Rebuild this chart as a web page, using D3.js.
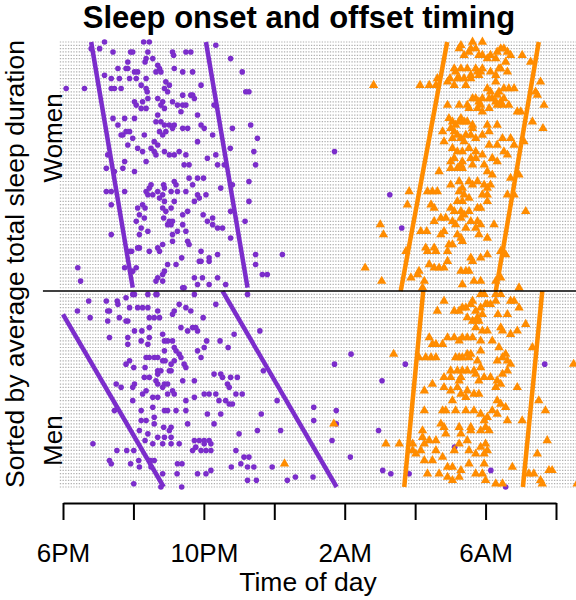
<!DOCTYPE html>
<html><head><meta charset="utf-8">
<script src="https://cdn.jsdelivr.net/npm/d3@7"></script>
<style>body{margin:0;background:#fff}svg{display:block}text{font-family:"Liberation Sans",Arial,sans-serif;fill:#000}</style>
</head><body><svg id="c" width="576" height="600"></svg>
<script>
// x values: hours after 6PM; rows: subjects sorted by average total sleep duration
const tickHours=[0,2,4,6,8,10,12,14];
const tickLabels=["6PM","","10PM","","2AM","","6AM",""];
const groupNames=["Women","Men"];
const womenRowRange=[1,75];
const menRowRange=[77,135];
const separatorRow=76;

const womenOnset=[[3,0.80],[3,1.04],[1,1.18],[1,2.29],[1,2.45],[4,2.41],[6,2.36],[6,2.55],[7,2.33],[4,1.92],[4,1.98],[7,1.84],[4,1.42],[4,3.11],[5,3.14],[4,3.49],[4,3.63],[2,4.34],[6,4.76],[10,5.09],[16,5.19],[16,5.28],[9,1.56],[9,1.79],[9,1.84],[10,2.12],[12,2.08],[12,1.89],[10,2.03],[8,2.69],[9,2.74],[10,2.78],[10,2.64],[9,3.16],[10,3.40],[10,3.68],[11,1.18],[12,1.37],[12,1.60],[15,1.37],[15,1.46],[15,1.65],[14,2.22],[15,2.36],[16,2.39],[12,2.36],[13,2.92],[15,2.88],[16,2.97],[14,3.02],[15,0.09],[15,0.61],[14,3.92],[17,3.40],[17,3.63],[18,3.73],[17,3.68],[18,2.69],[19,2.83],[20,2.78],[21,2.88],[19,3.11],[20,3.25],[20,3.40],[20,3.49],[22,3.35],[19,2.03],[20,2.08],[19,2.26],[18,2.41],[21,2.36],[21,2.22],[20,4.29],[23,3.82],[24,1.42],[24,1.75],[24,2.03],[26,1.56],[23,2.69],[25,2.64],[25,2.78],[26,2.88],[26,3.02],[26,3.16],[27,3.11],[28,2.92],[28,2.74],[29,2.83],[31,2.59],[32,2.69],[27,3.40],[27,3.54],[26,3.92],[27,4.01],[27,4.81],[26,5.33],[30,5.52],[34,5.42],[29,1.65],[28,1.79],[28,1.89],[29,1.70],[30,1.98],[29,2.31],[32,1.84],[33,2.12],[34,2.26],[33,2.50],[34,2.59],[35,2.64],[34,2.88],[35,3.02],[35,3.16],[34,3.30],[35,3.49],[31,3.82],[29,4.25],[33,4.75],[35,1.27],[37,1.75],[37,2.36],[36,4.10],[35,4.34],[38,3.44],[38,3.58],[38,4.39],[38,4.58],[38,5.47],[34,7.71],
[46,1.23],[46,1.37],[46,1.75],[50,1.37],[59,1.37],[39,1.23],[40,1.46],[39,1.70],[40,2.03],[46,2.36],[45,2.45],[44,2.50],[47,2.41],[47,2.55],[46,2.69],[44,2.86],[45,2.88],[47,2.83],[46,3.07],[43,3.16],[44,3.21],[46,3.25],[46,3.49],[42,3.58],[42,3.82],[42,3.99],[44,3.68],[47,3.82],[48,3.87],[47,4.06],[45,4.48],[44,4.81],[43,5.28],[49,5.28],[51,2.12],[50,2.26],[51,2.33],[53,2.17],[54,2.31],[55,2.08],[48,2.74],[49,2.88],[51,2.83],[52,2.92],[54,2.86],[55,3.02],[56,3.07],[55,3.11],[56,2.97],[49,3.16],[51,3.07],[53,3.40],[52,3.54],[49,3.73],[53,3.98],[55,4.10],[54,4.25],[56,4.25],[57,4.39],[57,4.53],[52,4.76],[55,5.17],[60,4.76],[57,2.22],[58,2.41],[59,2.17],[63,2.17],[63,2.12],[64,2.45],[63,2.69],[64,2.74],[62,2.83],[59,3.11],[61,3.11],[58,3.25],[58,3.49],[61,3.54],[62,3.58],[56,3.40],[64,1.89],[64,1.95],[69,1.75],[70,1.98],[69,2.08],[64,3.92],[67,3.87],[67,3.92],[66,4.15],[67,4.15],[65,4.39],[66,3.37],[68,2.97],[68,3.21],[70,2.88],[71,2.83],[72,2.69],[73,2.64],[73,2.83],[72,3.73],[72,3.96],[72,4.39],[74,4.62],[74,4.15],[74,3.82],[75,3.40],[75,3.44],[65,5.47],[68,5.47],[71,5.66],[71,5.80],[65,6.23],[69,0.42],[73,0.50],[47,9.28],[57,9.62]];

const womenOffset=[[14,8.82],[14,10.14],[14,10.40],[12,10.63],[14,10.59],[13,10.92],[12,10.99],[14,11.11],[12,11.25],[1,11.63],[1,11.91],[2,11.30],[3,11.25],[5,11.39],[4,11.53],[3,11.58],[3,11.72],[5,11.81],[5,11.91],[6,12.05],[5,12.14],[6,12.29],[4,12.33],[3,12.43],[3,12.52],[4,12.62],[5,12.71],[7,12.57],[9,12.38],[5,13.04],[7,13.28],[9,11.11],[9,11.30],[10,11.15],[9,11.48],[11,11.58],[9,11.72],[10,11.77],[10,11.86],[11,11.81],[9,11.91],[10,12.14],[11,12.29],[9,12.43],[10,12.62],[12,11.20],[12,11.39],[12,11.58],[14,11.44],[13,12.29],[13,13.56],[16,13.42],[17,13.47],[20,13.66],[22,12.90],[22,13.0],[25,13.33],[27,13.63],[15,12.05],[16,12.14],[16,12.38],[15,12.52],[15,12.66],[15,12.81],[17,12.33],[18,12.52],[19,12.43],[19,12.29],[18,11.63],[18,11.72],[19,11.81],[18,11.91],[18,12.10],[18,12.19],[20,11.86],[21,11.77],[20,11.48],[21,11.53],[20,12.33],[20,12.48],[20,12.66],[21,12.10],[22,11.91],[20,10.92],[20,11.25],[24,10.96],[25,11.06],[26,11.15],[25,11.25],[24,11.30],[25,11.39],[25,11.48],[26,11.63],[27,11.63],[27,11.01],[28,11.11],[29,11.20],[30,11.30],[29,11.44],[29,11.58],[31,11.39],[30,11.72],[29,11.91],[28,12.10],[26,12.05],[26,12.33],[30,12.48],[30,12.71],[31,13.09],[32,12.81],[28,10.78],[31,10.82],[30,11.06],[33,11.06],[34,11.20],[34,11.34],[33,11.53],[34,11.72],[35,11.91],[32,12.10],[32,12.33],[34,12.52],[35,12.62],[36,11.11],[37,11.34],[36,11.58],[36,11.72],[36,12.19],[37,12.33],[37,11.01],[38,11.30],[38,11.63],[38,11.96],
[39,11.01],[39,11.20],[39,11.34],[40,10.68],[40,12.05],[41,12.19],[41,12.95],[42,12.71],[46,9.83],[46,10.35],[46,10.49],[46,10.63],[44,11.01],[43,11.25],[45,11.34],[43,11.53],[44,11.63],[43,11.77],[44,11.96],[45,12.05],[44,12.14],[47,11.91],[47,12.05],[46,11.25],[47,11.39],[48,11.53],[49,11.20],[49,11.34],[47,12.62],[47,12.81],[52,13.14],[50,9.78],[50,10.45],[51,10.54],[51,11.01],[52,11.11],[52,11.30],[53,11.39],[52,11.53],[51,11.77],[51,11.86],[49,12.05],[55,10.54],[54,10.73],[54,10.87],[55,11.06],[54,11.30],[56,11.15],[57,11.44],[55,11.58],[55,11.77],[56,11.86],[57,11.72],[56,12.24],[56,9.01],[59,9.10],[58,10.16],[58,10.33],[59,10.73],[58,10.82],[59,11.20],[60,11.30],[62,11.06],[62,10.96],[61,11.34],[59,11.81],[60,12.05],[64,9.74],[63,10.30],[64,10.35],[63,10.54],[64,10.59],[64,10.92],[66,11.58],[67,11.63],[66,11.86],[65,12.05],[65,12.57],[64,12.43],[68,10.40],[69,10.54],[69,10.68],[69,10.82],[67,10.92],[70,11.30],[70,11.44],[70,11.53],[70,10.11],[72,9.88],[73,10.26],[71,10.07],[69,8.58],[73,9.05],[74,11.34],[73,11.67],[73,11.86],[73,12.29],[72,12.43],[75,12.95],[75,10.21]];

const menOnset=[[77,1.98],[77,2.41],[77,2.64],[77,3.73],[77,5.24],[79,0.73],[79,1.23],[79,1.54],[80,1.56],[78,1.79],[77,2.03],[77,2.67],[82,0.41],[84,0.77],[82,1.27],[82,1.32],[81,1.89],[81,2.12],[81,2.26],[81,2.41],[84,2.45],[84,2.59],[84,2.74],[82,2.69],[83,3.11],[82,3.16],[80,3.30],[81,3.49],[82,3.63],[80,4.34],[85,1.27],[84,1.60],[85,1.79],[85,1.84],[88,2.03],[88,2.24],[87,2.45],[90,1.32],[90,1.84],[92,1.84],[91,2.22],[90,2.45],[92,2.41],[89,2.83],[91,2.88],[91,2.97],[91,3.11],[93,3.16],[94,3.21],[94,2.88],[87,3.35],[88,3.54],[87,3.68],[87,3.77],[88,3.82],[84,3.98],[91,4.08],[93,4.01],[91,4.46],[93,4.69],[89,4.86],[88,5.59],[94,3.82],[96,3.92],[95,3.30],[96,3.35],[98,3.44],[99,3.49],[96,2.36],[96,2.45],[96,2.59],[96,2.69],[97,2.83],[97,2.90],[97,3.16],[98,3.07],[98,1.79],[97,1.89],[99,2.01],[99,2.33],[100,2.69],[100,2.78],[100,3.02],[100,3.07],[104,1.51],[105,1.65],[104,2.03],[105,1.98],[102,2.31],[102,2.45],[103,2.64],[104,2.69],[104,2.88],[104,2.97],[105,2.83],[106,3.11],[107,3.16],[101,2.69],[103,3.40],[103,3.73],[101,4.29],[101,4.48],[102,4.53],[102,4.76],[102,4.95],[104,4.67],[105,4.72],[107,4.91],[107,5.09],[100,5.69],[98,7.71],[95,8.18],[109,1.98],[107,2.26],[106,2.36],[108,2.55],[108,2.69],[107,2.97],[109,3.49],[108,3.73],[107,4.01],[107,4.15],[107,4.34],[109,4.43],[109,4.62],[110,4.72],[110,4.81],[109,6.08],[112,1.46],[112,2.22],[111,2.55],[112,2.88],[112,2.97],[112,3.21],[112,3.49],[113,4.10],[113,4.48],[113,5.63],[111,7.12],[112,7.76],[115,2.22],[115,2.36],[114,2.59],[116,2.59],[117,2.86],[117,3.07],[116,3.54],[116,4.29],[119,5.00],[118,5.52],[118,6.18],[115,7.12],[118,2.17],[119,2.41],[120,2.69],[120,2.88],[118,3.02],[120,3.07],[121,2.33],[122,2.55],[122,2.83],[122,3.07],[122,3.30],[121,3.73],[121,3.87],[121,4.01],[121,4.15],[124,3.68],[123,3.77],[122,4.01],[122,4.20],[124,4.20],[124,3.92],[124,4.06],[122,0.85],[124,1.53],[124,1.81],[124,2.01],[127,2.15],[127,2.48],[127,2.59],[127,1.32],[128,1.37],[128,1.92],[129,2.17],[129,2.50],[128,3.25],[128,3.38],[131,3.24],[131,2.83],[131,3.82],[131,4.06],[130,4.20],[124,4.91],[126,5.14],[126,5.28],[129,5.24],[129,5.42],[128,5.05],[129,4.78],[129,5.94],[134,2.01],[135,2.78],[135,3.37],[133,5.24],[133,5.49],[133,6.37],[132,6.60],[132,7.10],[121,7.64],[116,7.76],[126,8.16],[98,9.72],[103,9.06],[118,8.96],[130,9.08],[131,9.31],[131,9.83],[123,11.12],[130,12.15],[135,12.57],[98,13.68]];

const menOffset=[[79,10.82],[82,11.11],[82,11.25],[81,11.34],[81,11.44],[80,11.58],[79,11.63],[82,11.72],[81,11.86],[80,12.0],[80,12.05],[80,12.14],[79,12.29],[77,12.43],[77,12.29],[79,12.71],[79,12.81],[81,12.95],[77,11.86],[77,11.96],[82,10.63],[84,11.48],[85,11.63],[85,11.72],[85,11.81],[84,11.77],[83,11.91],[83,12.35],[83,12.62],[87,11.72],[88,11.91],[88,12.05],[87,12.43],[88,12.48],[89,12.71],[88,12.90],[86,13.14],[90,10.40],[92,10.49],[92,10.59],[92,10.78],[90,10.92],[90,11.11],[91,11.25],[90,11.34],[90,11.48],[90,11.63],[91,11.86],[91,12.19],[93,12.38],[93,13.33],[95,9.39],[96,10.11],[96,10.30],[96,10.45],[96,10.59],[96,11.15],[96,11.25],[96,11.34],[95,11.48],[96,11.53],[95,11.58],[97,11.77],[94,11.86],[97,12.33],[96,12.48],[95,12.57],[97,12.62],[98,12.71],[100,11.01],[100,11.20],[100,11.34],[100,11.48],[100,11.67],[99,11.86],[102,11.96],[102,12.14],[103,12.33],[101,12.48],[100,12.62],[102,10.82],[102,11.01],[103,11.25],[102,11.30],[101,11.72],[103,11.81],[106,10.26],[104,10.49],[105,10.82],[106,11.01],[105,11.20],[107,11.30],[106,11.48],[107,11.67],[108,11.44],[109,11.06],[107,11.81],[105,12.29],[104,12.43],[105,12.90],[109,12.33],[110,12.43],[111,12.57],[115,12.62],[115,13.04],[109,13.51],[112,13.70],[121,13.75],[98,14.50],[112,10.26],[112,10.78],[112,10.87],[112,11.15],[112,11.44],[112,11.67],[113,11.86],[114,12.05],[112,12.19],[113,12.33],[118,10.21],[116,10.73],[117,10.82],[119,10.87],[117,11.25],[117,11.58],[118,11.58],[118,11.86],[117,12.0],[118,12.10],[115,11.96],[119,11.30],[122,9.17],[122,9.55],[122,9.93],[120,10.21],[122,10.26],[121,10.40],[121,10.59],[124,9.93],[125,10.02],[124,10.16],[127,10.26],[127,10.49],[124,10.59],[126,10.78],[124,11.11],[122,11.25],[121,11.48],[124,11.53],[125,11.72],[123,11.86],[122,12.0],[124,12.05],[125,11.96],[129,10.92],[129,11.06],[130,11.30],[128,11.53],[128,11.96],[129,12.76],[125,13.47],[131,10.35],[131,10.68],[132,10.92],[133,11.06],[132,11.25],[131,11.72],[131,11.91],[133,12.0],[134,12.29],[134,12.48],[131,13.23],[131,13.37],[130,13.80],[130,13.89],[134,14.60],[134,13.61],[133,13.56],[116,7.69],[128,6.29]];

// trend lines per group: [start, end] as [row, hour]
const womenOnsetLines=[[[1,0.80],[75,1.98]],[[1,4.06],[75,5.24]]];
const menOnsetLines=[[[83,0.0],[135,2.86]],[[76,4.53],[135,7.77]]];
const womenOffsetLines=[[[1,10.91],[76,9.59]],[[1,13.51],[76,12.29]]];
const menOffsetLines=[[[76,10.23],[135,9.69]],[[76,13.61],[135,13.06]]];

const purple="#7b2dcb", orange="#ff8c00";
const svg=d3.select("#c");
svg.append("rect").attr("width",576).attr("height",600).attr("fill","#fff");
const x=d3.scaleLinear().domain([0,14]).range([63,556]);
const y=d3.scaleLinear().domain([1,135]).range([42,487]);
const plot=svg.append("g");
const rows=d3.range(womenRowRange[0],womenRowRange[1]+1).concat(d3.range(menRowRange[0],menRowRange[1]+1));
plot.selectAll("line.row").data(rows).join("line").attr("class","row")
  .attr("x1",x(-0.09)).attr("x2",x(14.7)).attr("y1",d=>y(d)).attr("y2",d=>y(d))
  .attr("stroke","#b0b0b0").attr("stroke-width",1.2).attr("stroke-dasharray","1.3,1.4");

const onset=womenOnset.concat(menOnset), offset=womenOffset.concat(menOffset);
plot.selectAll("circle.on").data(onset).join("circle").attr("class","on")
  .attr("cx",d=>x(d[1])).attr("cy",d=>y(d[0])).attr("r",2.8).attr("fill",purple);
const tri=d3.symbol(d3.symbolTriangle,38);
plot.selectAll("path.off").data(offset).join("path").attr("class","off")
  .attr("d",tri).attr("transform",d=>`translate(${x(d[1])},${y(d[0])})`).attr("fill",orange);

const ln=d3.line().x(d=>x(d[1])).y(d=>y(d[0]));
[[womenOnsetLines,purple],[menOnsetLines,purple],[womenOffsetLines,orange],[menOffsetLines,orange]].forEach(([ls,c])=>{
  ls.forEach(l=>plot.append("path").attr("d",ln(l)).attr("fill","none").attr("stroke",c).attr("stroke-width",4.5));
});

svg.append("line").attr("x1",x(-0.57)).attr("x2",x(14.7)).attr("y1",y(separatorRow)).attr("y2",y(separatorRow))
  .attr("stroke","#000").attr("stroke-width",1.5);

const ax=svg.append("g").attr("transform","translate(0,503)")
  .call(d3.axisBottom(x).tickValues(tickHours).tickFormat((d,i)=>tickLabels[i]).tickSize(17).tickSizeOuter(0));
ax.select(".domain").attr("stroke","#000").attr("stroke-width",2);
ax.selectAll(".tick line").attr("stroke","#000").attr("stroke-width",2);
ax.selectAll(".tick text").attr("y",59).attr("dy",0).style("font-size","26px").style("font-family","'Liberation Sans',Arial,sans-serif").attr("fill","#000");

svg.append("text").attr("x",299).attr("y",28).attr("text-anchor","middle").style("font-size","31px").style("font-weight","bold").text("Sleep onset and offset timing");
svg.append("text").attr("x",308).attr("y",591).attr("text-anchor","middle").style("font-size","26.5px").text("Time of day");
svg.append("text").attr("transform","translate(24,264) rotate(-90)").attr("text-anchor","middle").style("font-size","26.5px").text("Sorted by average total sleep duration");
svg.append("text").attr("transform",`translate(62,${(y(womenRowRange[0])+y(womenRowRange[1]))/2-27}) rotate(-90)`).attr("text-anchor","middle").style("font-size","26px").text(groupNames[0]);
svg.append("text").attr("transform",`translate(62,${(y(menRowRange[0])+y(menRowRange[1]))/2+50}) rotate(-90)`).attr("text-anchor","middle").style("font-size","26px").text(groupNames[1]);
</script></body></html>
